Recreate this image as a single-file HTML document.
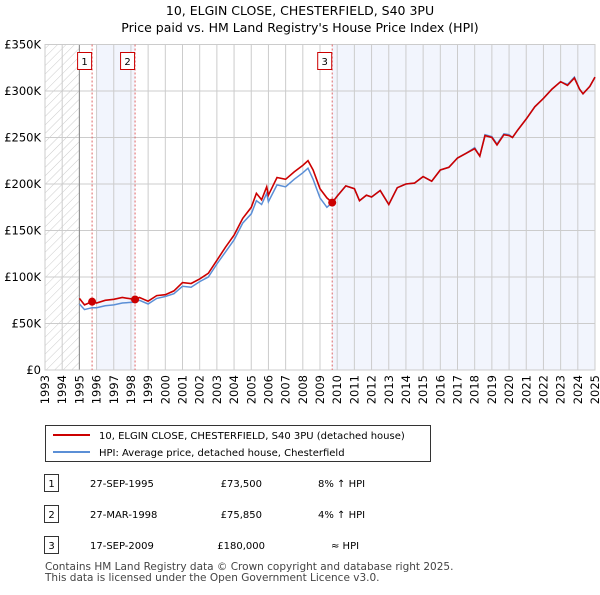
<!DOCTYPE html>
<html><head><meta charset="utf-8"><style>
body{margin:0;background:#fff;font-family:"Liberation Sans","DejaVu Sans",sans-serif;}
svg text{font-family:"DejaVu Sans","Liberation Sans",sans-serif;}
</style></head><body>
<svg id="c" width="600" height="590" xmlns="http://www.w3.org/2000/svg">
<defs><pattern id="hatch" width="6" height="6" patternUnits="userSpaceOnUse" patternTransform="rotate(45)"><line x1="0" y1="0" x2="0" y2="6" stroke="#ccc" stroke-width="1"/></pattern></defs>
<text x="300" y="15" text-anchor="middle" font-size="12.5">10, ELGIN CLOSE, CHESTERFIELD, S40 3PU</text>
<text x="300" y="32" text-anchor="middle" font-size="12.5">Price paid vs. HM Land Registry's House Price Index (HPI)</text>
<g id="plot"></g>
<g>
<rect x="45.5" y="425.5" width="385" height="36" fill="#fff" stroke="#333"/>
<line x1="53" y1="435" x2="90" y2="435" stroke="#c00" stroke-width="2"/>
<text x="99" y="439" font-size="10">10, ELGIN CLOSE, CHESTERFIELD, S40 3PU (detached house)</text>
<line x1="53" y1="452" x2="90" y2="452" stroke="#5b8fd6" stroke-width="2"/>
<text x="99" y="456" font-size="10">HPI: Average price, detached house, Chesterfield</text>
</g>
<g font-size="10">
<rect x="44.5" y="474.5" width="14" height="17" fill="#fff" stroke="#333"/><text x="51.5" y="487" text-anchor="middle">1</text>
<text x="90" y="487">27-SEP-1995</text><text x="262" y="487" text-anchor="end">£73,500</text><text x="318" y="487">8% ↑ HPI</text>
<rect x="44.5" y="505.5" width="14" height="17" fill="#fff" stroke="#333"/><text x="51.5" y="518" text-anchor="middle">2</text>
<text x="90" y="518">27-MAR-1998</text><text x="262" y="518" text-anchor="end">£75,850</text><text x="318" y="518">4% ↑ HPI</text>
<rect x="44.5" y="536.5" width="14" height="17" fill="#fff" stroke="#333"/><text x="51.5" y="549" text-anchor="middle">3</text>
<text x="90" y="549">17-SEP-2009</text><text x="265" y="549" text-anchor="end">£180,000</text><text x="331" y="549">≈ HPI</text>
</g>
<text x="45" y="570" font-size="10.5" fill="#444">Contains HM Land Registry data © Crown copyright and database right 2025.</text>
<text x="45" y="581" font-size="10.5" fill="#444">This data is licensed under the Open Government Licence v3.0.</text>
</svg>
<script>
const years=[1993,1994,1995,1996,1997,1998,1999,2000,2001,2002,2003,2004,2005,2006,2007,2008,2009,2010,2011,2012,2013,2014,2015,2016,2017,2018,2019,2020,2021,2022,2023,2024,2025];
const yTicks=[0,50,100,150,200,250,300,350];
const yTickLabels=['£0','£50K','£100K','£150K','£200K','£250K','£300K','£350K'];
const priceT=[1995.0,1995.3,1995.74,1996,1996.5,1997,1997.5,1998.24,1998.5,1999,1999.5,2000,2000.5,2001,2001.5,2002,2002.5,2003,2003.5,2004,2004.5,2005,2005.3,2005.6,2005.9,2006,2006.5,2007,2007.5,2008,2008.3,2008.6,2009,2009.4,2009.71,2010,2010.5,2011,2011.3,2011.7,2012,2012.5,2013,2013.5,2014,2014.5,2015,2015.5,2016,2016.5,2017,2017.5,2018,2018.3,2018.6,2019,2019.3,2019.7,2020,2020.2,2020.5,2021,2021.5,2022,2022.5,2023,2023.4,2023.8,2024.1,2024.3,2024.7,2025];
const priceV=[77,70,73.5,72,75,76,78,75.85,78,74,80,81,85,94,93,98,104,118,132,145,163,175,190,183,197,188,207,205,213,220,225,215,195,185,180,187,198,195,182,188,186,193,178,196,200,201,208,203,215,218,228,233,238,230,252,250,242,253,252,250,258,270,283,292,302,310,306,314,302,297,305,315];
const hpiV=[71,65,67,67,69,70,72,73,75,71,77,79,82,90,89,95,100,114,127,140,158,168,182,178,190,181,199,197,205,212,217,205,185,175,180,187,198,195,182,188,186,193,178,196,200,201,208,203,215,218,228,233,239,230,253,251,243,254,253,250,258,270,283,292,302,310,307,315,302,297,305,315];
const sales=[[1995.74,73.5,'1'],[1998.24,75.85,'2'],[2009.71,180,'3']];
const X0=45,X1=595,Y0=370,Y1=44.5;
const xs=t=>X0+(t-1993)/(2025-1993)*(X1-X0);
const ys=v=>Y0-v/350*(Y0-Y1);
const NS='http://www.w3.org/2000/svg';
const g=document.getElementById('plot');
function mk(tag,attrs,parent){const e=document.createElementNS(NS,tag);for(const k in attrs)e.setAttribute(k,attrs[k]);(parent||g).appendChild(e);return e;}
let e;
e=mk('rect',{x:X0,y:Y1,width:X1-X0,height:Y0-Y1,fill:'#fff'});
e=mk('rect',{x:xs(1996),y:Y1,width:xs(1998.24)-xs(1996),height:Y0-Y1,fill:'#f2f5fd'});


e=mk('rect',{x:xs(2009.71),y:Y1,width:X1-xs(2009.71),height:Y0-Y1,fill:'#f2f5fd'});


e=mk('rect',{x:X0,y:Y1,width:xs(1995)-X0,height:Y0-Y1,fill:'url(#hatch)'});


years.forEach(y=>{
 e=mk('line',{x1:xs(y),x2:xs(y),y1:Y1,y2:Y0,stroke:'#ccc'});
 
 
 const tx=mk('text',{transform:`translate(${xs(y)+4},${Y0+5}) rotate(-90)`,'text-anchor':'end','font-size':'11.5'});
 tx.textContent=y;
 
 
});
yTicks.forEach((v,i)=>{
 e=mk('line',{x1:X0,x2:X1,y1:ys(v),y2:ys(v),stroke:'#ccc'});
 
 
 const tx=mk('text',{x:X0-4,y:ys(v)+4,'text-anchor':'end','font-size':'11.5'});
 tx.textContent=yTickLabels[i];
 
 
});
e=mk('line',{x1:xs(1995),x2:xs(1995),y1:Y1,y2:Y0,stroke:'#888'});
e=mk('rect',{x:X0,y:Y1,width:X1-X0,height:Y0-Y1,fill:'none',stroke:'#ccc'});
sales.forEach(s=>{
 e=mk('line',{x1:xs(s[0]),x2:xs(s[0]),y1:Y1,y2:Y0,stroke:'#e06666','stroke-dasharray':'2,2'});
 
 
 e=mk('rect',{x:xs(s[0])-14.5,y:52.5,width:14,height:17,fill:'#fff',stroke:'#c00'});
 
 
 const tx=mk('text',{x:xs(s[0])-7.5,y:65,'text-anchor':'middle','font-size':'10'});
 tx.textContent=s[2];
});
let d='';priceT.forEach((t,i)=>d+=(i?'L':'M')+xs(t).toFixed(1)+','+ys(hpiV[i]).toFixed(1));
e=mk('path',{d:d,fill:'none',stroke:'#5b8fd6','stroke-width':1.5});


d='';priceT.forEach((t,i)=>d+=(i?'L':'M')+xs(t).toFixed(1)+','+ys(priceV[i]).toFixed(1));
e=mk('path',{d:d,fill:'none',stroke:'#c00','stroke-width':1.6});


sales.forEach(s=>{
 e=mk('circle',{cx:xs(s[0]),cy:ys(s[1]),r:4,fill:'#c00'});
 
 
});
</script>
</body></html>
